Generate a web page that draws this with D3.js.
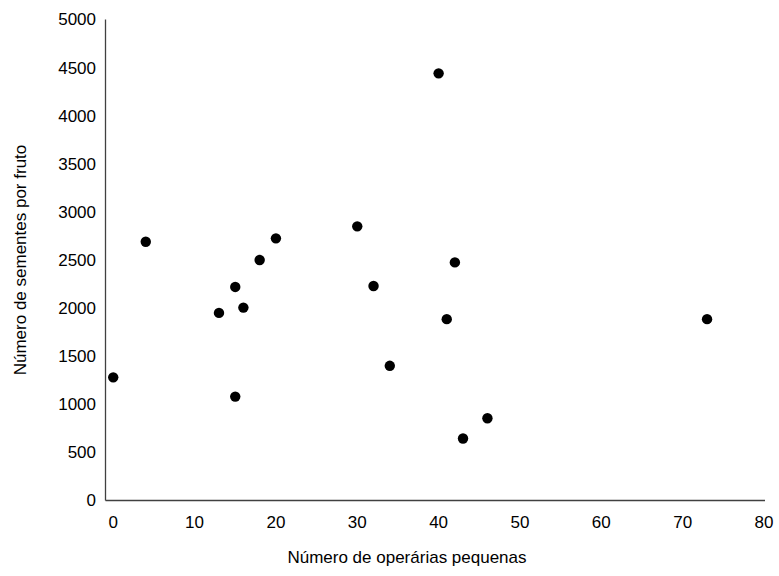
<!DOCTYPE html>
<html>
<head>
<meta charset="utf-8">
<script src="https://cdn.jsdelivr.net/npm/d3@7"></script>
<style>
  body { margin: 0; background: #fff; }
  text { font-family: "Liberation Sans", Arial, sans-serif; fill: #000; }
</style>
</head>
<body>
<script>
// operárias pequenas (x) vs sementes por fruto (y)
var operarias = [0, 4, 13, 15, 15, 16, 18, 20, 30, 32, 34, 40, 41, 42, 43, 46, 73];
var sementes  = [1280, 2690, 1950, 2220, 1080, 2005, 2500, 2725, 2850, 2230, 1400, 4440, 1885, 2475, 645, 855, 1885];
var xTicks = [0, 10, 20, 30, 40, 50, 60, 70, 80];
var yTicks = [0, 500, 1000, 1500, 2000, 2500, 3000, 3500, 4000, 4500, 5000];

var W = 779, H = 576;
var svg = d3.select("body").append("svg").attr("width", W).attr("height", H);

var x = d3.scaleLinear().domain([-0.95, 80]).range([105.5, 764]);
var y = d3.scaleLinear().domain([0, 5000]).range([500.5, 19.5]);

// axis lines
svg.append("line").attr("x1", 105.5).attr("x2", 105.5).attr("y1", 19.5).attr("y2", 500.5)
  .attr("stroke", "#404040").attr("stroke-width", 1.3);
svg.append("line").attr("x1", 105.5).attr("x2", 765).attr("y1", 500.5).attr("y2", 500.5)
  .attr("stroke", "#404040").attr("stroke-width", 1.3);

// tick labels
svg.selectAll(".yl").data(yTicks).enter().append("text")
  .attr("x", 96).attr("y", function (d) { return y(d); })
  .attr("dy", "0.35em").attr("text-anchor", "end")
  .style("font-size", "17px").text(function (d) { return d; });

svg.selectAll(".xl").data(xTicks).enter().append("text")
  .attr("x", function (d) { return x(d); }).attr("y", 522)
  .attr("dy", "0.35em").attr("text-anchor", "middle")
  .style("font-size", "17px").text(function (d) { return d; });

// points
svg.selectAll("circle").data(operarias).enter().append("circle")
  .attr("cx", function (d) { return x(d); })
  .attr("cy", function (d, i) { return y(sementes[i]); })
  .attr("r", 5.2).attr("fill", "#000");

// titles
svg.append("text").attr("x", 407).attr("y", 557).attr("dy", "0.35em")
  .attr("text-anchor", "middle").style("font-size", "17px")
  .text("Número de operárias pequenas");
svg.append("text").attr("transform", "translate(20,260) rotate(-90)")
  .attr("dy", "0.35em").attr("text-anchor", "middle").style("font-size", "17px")
  .text("Número de sementes por fruto");
</script>
</body>
</html>
